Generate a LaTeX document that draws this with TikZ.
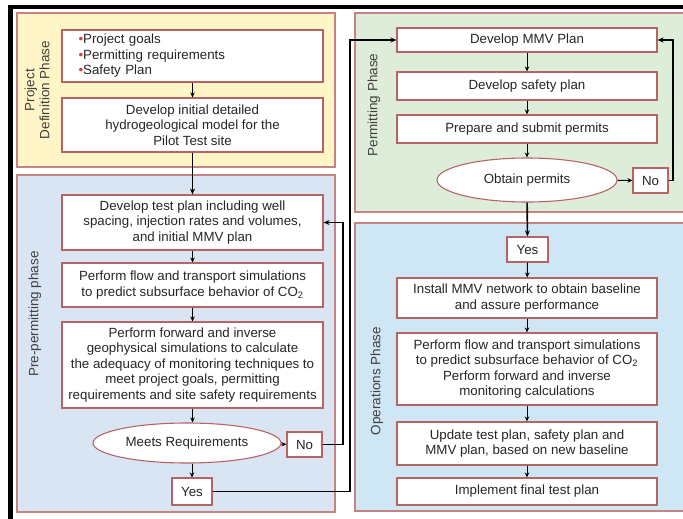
\documentclass[tikz,border=0pt]{standalone}
\usepackage{fontspec}
\setmainfont{Liberation Sans}
\usetikzlibrary{shapes.geometric,arrows.meta,calc}
\definecolor{panelred}{HTML}{C98282}
\definecolor{boxred}{HTML}{B86464}
\definecolor{yellowfill}{HTML}{FFF5C6}
\definecolor{prefill}{HTML}{DAE5F3}
\definecolor{greenfill}{HTML}{DEEDDA}
\definecolor{opsfill}{HTML}{CFE7F5}
\definecolor{bulletred}{HTML}{E03C3C}
\begin{document}
\begin{tikzpicture}[x=1pt,y=-1pt,
  font=\fontsize{13.3}{15.5}\selectfont,
  panel/.style={draw=panelred,line width=1.3pt},
  box/.style={draw=boxred,fill=white,line width=1.1pt,align=center,inner sep=1pt,minimum width=261pt,text=black!85},
  oval/.style={ellipse,draw=boxred,fill=white,line width=1.1pt,inner sep=0pt,text=black!85},
  small/.style={draw=boxred,fill=white,line width=1.1pt,inner sep=0pt,text=black!85},
  phase/.style={rotate=90,align=center,font=\fontsize{13.5}{15}\selectfont,text=black!75},
  arr/.style={-{Stealth[length=5pt,width=4.5pt]},line width=1pt},
  conn/.style={line width=1.6pt},
  conna/.style={-{Stealth[length=6pt,width=5pt]},line width=1.6pt}]
\useasboundingbox (0,0) rectangle (683,519);
\clip (0,0) rectangle (683,519);
\fill[white] (0,0) rectangle (683,519);
\fill[black] (8,5) rectangle (683,9);
\fill[black] (8,5) rectangle (13,519);
% panels
\draw[panel,fill=yellowfill] (17,13) rectangle (335,167);
\draw[panel,fill=prefill] (17,175) rectangle (335,512);
\draw[panel,fill=greenfill] (355,13) rectangle (700,212);
\draw[panel,fill=opsfill] (355,223) rectangle (700,511);
% phase labels
\node[phase] (lproj) at (37,90) {Project\\Definition Phase};
\node[phase] (lpre) at (35,314) {Pre-permitting phase};
\node[phase] (lperm) at (374,105) {Permitting Phase};
\node[phase] (lops) at (377,381) {Operations Phase};
% project definition
\node[box,minimum height=52pt,text width=228pt,align=left] (goals) at (192.5,56)
  {\textcolor{bulletred}{\textbullet}Project goals\\
   \textcolor{bulletred}{\textbullet}Permitting requirements\\
   \textcolor{bulletred}{\textbullet}Safety Plan};
\node[box,minimum height=54pt] (hydro) at (192.5,125)
  {Develop initial detailed\\hydrogeological model for the\\Pilot Test site};
% pre-permitting
\node[box,minimum height=55pt] (test) at (192.5,222.5)
  {Develop test plan including well\\spacing, injection rates and volumes,\\and initial MMV plan};
\node[box,minimum height=44pt] (flow) at (192.5,285)
  {Perform flow and transport simulations\\to predict subsurface behavior of CO\textsubscript{2}};
\node[box,minimum height=86pt] (fwd) at (192.5,365)
  {Perform forward and inverse\\geophysical simulations to calculate\\the adequacy of monitoring techniques to\\meet project goals, permitting\\requirements and site safety requirements};
\node[oval,minimum width=188pt,minimum height=40pt] (meets) at (187,443) {Meets Requirements};
\node[small,minimum width=35pt,minimum height=25pt] (noa) at (304.5,444.5) {No};
\node[small,minimum width=40pt,minimum height=27pt] (yesa) at (192,491.5) {Yes};
% permitting
\node[box,minimum width=260pt,minimum height=24pt] (mmv) at (527,40) {Develop MMV Plan};
\node[box,minimum width=260pt,minimum height=28pt] (safety) at (527,86) {Develop safety plan};
\node[box,minimum width=260pt,minimum height=28pt] (prep) at (527,129) {Prepare and submit permits};
\node[oval,minimum width=180pt,minimum height=44pt] (obtain) at (527,180) {Obtain permits};
\node[small,minimum width=35pt,minimum height=25pt] (nob) at (650.5,180.5) {No};
% operations
\node[small,minimum width=41pt,minimum height=25pt] (yesb) at (527.5,249.5) {Yes};
\node[box,minimum width=260pt,minimum height=40pt] (install) at (527,298)
  {Install MMV network to obtain baseline\\and assure performance};
\node[box,minimum width=260pt,minimum height=72pt] (oflow) at (527,369)
  {Perform flow and transport simulations\\to predict subsurface behavior of CO\textsubscript{2}\\Perform forward and inverse\\monitoring calculations};
\node[box,minimum width=260pt,minimum height=43pt] (update) at (527,443.5)
  {Update test plan, safety plan and\\MMV plan, based on new baseline};
\node[box,minimum width=260pt,minimum height=27pt] (impl) at (527,491.5) {Implement final test plan};
% connectors
\draw[arr] (goals) -- (hydro);
\draw[conna] (hydro) -- (test);
\draw[arr] (test) -- (flow);
\draw[arr] (flow) -- (fwd);
\draw[arr] (fwd.south) -- (fwd.south |- meets.north);
\draw[arr] (meets.south -| yesa) -- (yesa);
\draw[arr] (meets) -- (noa);
\coordinate (ca) at (343,222.5);
\draw[conna] (noa.east) -| (ca) -- (test.east);
\coordinate (cb) at (350,40);
\draw[conna] (yesa.east) -| (cb) -- (mmv.west);
\draw[arr] (mmv) -- (safety);
\draw[arr] (safety) -- (prep);
\draw[arr] (prep) -- (obtain);
\draw[arr] (obtain) -- (nob);
\coordinate (cc) at (673,40);
\draw[conna] (nob.east) -| (cc) -- (mmv.east);
\draw[conna] (obtain) -- (yesb);
\draw[arr] (yesb) -- (install);
\draw[arr] (install) -- (oflow);
\draw[arr] (oflow) -- (update);
\draw[arr] (update) -- (impl);
\end{tikzpicture}
\end{document}
